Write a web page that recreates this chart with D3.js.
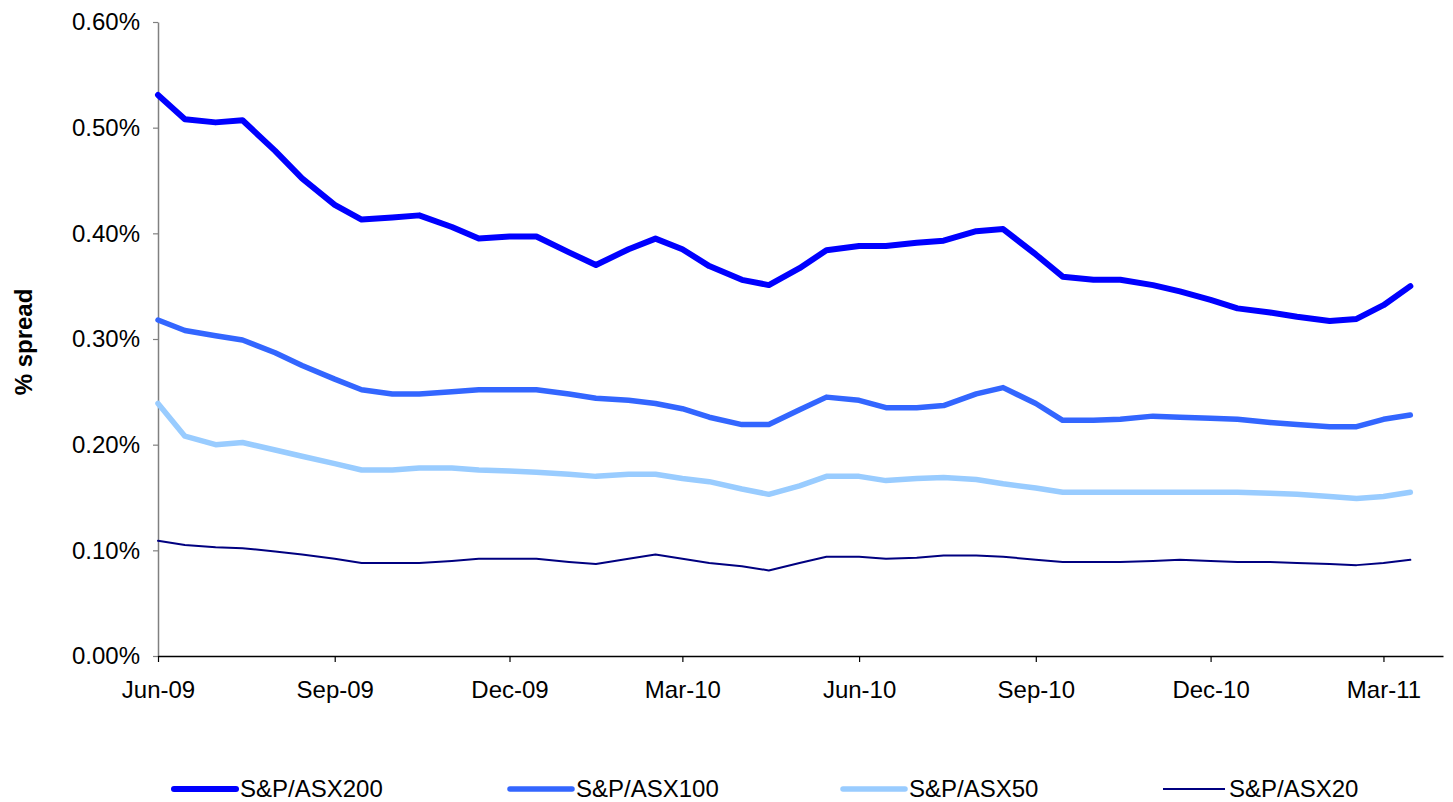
<!DOCTYPE html>
<html>
<head>
<meta charset="utf-8">
<script src="https://cdn.jsdelivr.net/npm/d3@7"></script>
<style>
  body { margin: 0; background: #fff; }
  text { font-family: "Liberation Sans", Arial, sans-serif; }
</style>
</head>
<body>
<div class="canvas"></div>
<script>
// semi-monthly observation dates
let dates = [
  '2009-06-01','2009-06-15','2009-07-01','2009-07-15','2009-08-01','2009-08-15',
  '2009-09-01','2009-09-15','2009-10-01','2009-10-15','2009-11-01','2009-11-15',
  '2009-12-01','2009-12-15','2010-01-01','2010-01-15','2010-02-01','2010-02-15',
  '2010-03-01','2010-03-15','2010-04-01','2010-04-15','2010-05-01','2010-05-15',
  '2010-06-01','2010-06-15','2010-07-01','2010-07-15','2010-08-01','2010-08-15',
  '2010-09-01','2010-09-15','2010-10-01','2010-10-15','2010-11-01','2010-11-15',
  '2010-12-01','2010-12-15','2011-01-01','2011-01-15','2011-02-01','2011-02-15',
  '2011-03-01','2011-03-15'
];

// % spread values
let asx200 = [
  0.531,0.508,0.505,0.507,0.478,0.452,0.427,0.413,0.415,0.417,0.406,0.395,
  0.397,0.397,0.382,0.370,0.385,0.395,0.385,0.369,0.356,0.351,0.367,0.384,
  0.388,0.388,0.391,0.393,0.402,0.404,0.380,0.359,0.356,0.356,0.351,0.345,
  0.337,0.329,0.325,0.321,0.317,0.319,0.332,0.350
];
let asx100 = [
  0.318,0.308,0.303,0.299,0.287,0.275,0.262,0.252,0.248,0.248,0.250,0.252,
  0.252,0.252,0.248,0.244,0.242,0.239,0.234,0.226,0.219,0.219,0.233,0.245,
  0.242,0.235,0.235,0.237,0.248,0.254,0.239,0.223,0.223,0.224,0.227,0.226,
  0.225,0.224,0.221,0.219,0.217,0.217,0.224,0.228
];
let asx50 = [
  0.239,0.208,0.200,0.202,0.195,0.189,0.182,0.176,0.176,0.178,0.178,0.176,
  0.175,0.174,0.172,0.170,0.172,0.172,0.168,0.165,0.158,0.153,0.161,0.170,
  0.170,0.166,0.168,0.169,0.167,0.163,0.159,0.155,0.155,0.155,0.155,0.155,
  0.155,0.155,0.154,0.153,0.151,0.149,0.151,0.155
];
let asx20 = [
  0.109,0.105,0.103,0.102,0.099,0.096,0.092,0.088,0.088,0.088,0.090,0.092,
  0.092,0.092,0.089,0.087,0.092,0.096,0.092,0.088,0.085,0.081,0.088,0.094,
  0.094,0.092,0.093,0.095,0.095,0.094,0.091,0.089,0.089,0.089,0.090,0.091,
  0.090,0.089,0.089,0.088,0.087,0.086,0.088,0.091
];

let seriesNames = ['S&P/ASX200', 'S&P/ASX100', 'S&P/ASX50', 'S&P/ASX20'];
let yTicks = [0, 0.1, 0.2, 0.3, 0.4, 0.5, 0.6];
let xTicks = ['2009-06-01','2009-09-01','2009-12-01','2010-03-01','2010-06-01',
  '2010-09-01','2010-12-01','2011-03-01'];

let width = 1453;
let height = 802;
const margin = { top: 22, right: 10, bottom: 146, left: 158 };
let colors = ['#0000ff', '#3366ff', '#99ccff', '#000080'];
let widths = [6, 5.5, 5.5, 2];
let legendX = [174, 510, 843, 1163];

let parse = d3.timeParse('%Y-%m-%d');

let svg = d3.select('.canvas')
  .append('svg')
  .attr('width', width)
  .attr('height', height);

let xScale = d3.scaleTime()
  .domain([parse('2009-06-01'), parse('2011-04-01')])
  .range([margin.left, 1443]);

let yScale = d3.scaleLinear()
  .domain([0, 0.6])
  .range([height - margin.bottom, margin.top]);

// y axis
let yAxis = svg.append('g')
  .attr('class', 'y-axis')
  .attr('transform', `translate(${margin.left}, 0)`)
  .call(d3.axisLeft(yScale)
    .tickValues(yTicks)
    .tickSizeInner(5)
    .tickSizeOuter(0)
    .tickPadding(13)
    .tickFormat(d => d.toFixed(2) + '%'));
yAxis.select('.domain').attr('stroke', '#808080').attr('stroke-width', 1.5);
yAxis.selectAll('line').attr('stroke', '#808080').attr('stroke-width', 1.2);
yAxis.selectAll('text')
  .attr('fill', '#000')
  .style('font-size', '24px')
  .style('font-family', '"Liberation Sans", Arial, sans-serif');

// x axis
let xAxis = svg.append('g')
  .attr('class', 'x-axis')
  .attr('transform', `translate(0, ${height - margin.bottom})`)
  .call(d3.axisBottom(xScale)
    .tickValues(xTicks.map(parse))
    .tickSizeInner(6)
    .tickSizeOuter(0)
    .tickPadding(19)
    .tickFormat(d3.timeFormat('%b-%y')));
xAxis.select('.domain').attr('stroke', '#000').attr('stroke-width', 1.3);
xAxis.selectAll('line').attr('stroke', '#000').attr('stroke-width', 1.2);
xAxis.selectAll('text')
  .attr('fill', '#000')
  .style('font-size', '24px')
  .style('font-family', '"Liberation Sans", Arial, sans-serif');

// y axis label
svg.append('text')
  .attr('transform', 'rotate(-90)')
  .attr('x', -342)
  .attr('y', 32)
  .attr('text-anchor', 'middle')
  .style('font-size', '24px')
  .style('font-weight', 'bold')
  .text('% spread');

// lines
let allSeries = [asx200, asx100, asx50, asx20];
let line = d3.line()
  .x(d => xScale(d.date))
  .y(d => yScale(d.value));

allSeries.forEach((vals, i) => {
  let pts = vals.map((v, j) => ({ date: parse(dates[j]), value: v }));
  svg.append('path')
    .datum(pts)
    .attr('class', 'series')
    .attr('fill', 'none')
    .attr('stroke', colors[i])
    .attr('stroke-width', widths[i])
    .attr('stroke-linejoin', 'round')
    .attr('stroke-linecap', 'round')
    .attr('d', line);
});

// legend
const legend = svg.append('g').attr('class', 'legend');
const legendItems = legend.selectAll('.legend-item')
  .data(seriesNames)
  .enter()
  .append('g')
  .attr('class', 'legend-item')
  .attr('transform', (d, i) => `translate(${legendX[i]}, 789)`);

legendItems.append('line')
  .attr('x1', 0)
  .attr('x2', 62)
  .attr('y1', 0)
  .attr('y2', 0)
  .attr('stroke', (d, i) => colors[i])
  .attr('stroke-width', (d, i) => widths[i])
  .attr('stroke-linecap', (d, i) => i === 3 ? 'butt' : 'round');

legendItems.append('text')
  .attr('x', 66)
  .attr('y', 0)
  .attr('dy', '0.35em')
  .style('font-size', '24px')
  .text(d => d);
</script>
</body>
</html>
